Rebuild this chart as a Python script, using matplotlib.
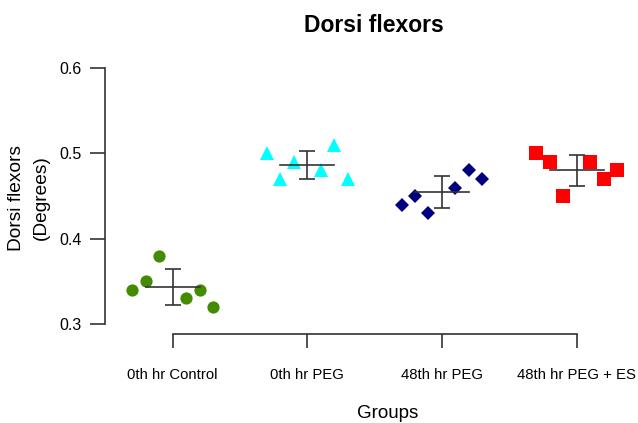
import numpy as np
from matplotlib import pyplot as plt

plt.rcParams['font.family'] = ['Liberation Sans', 'DejaVu Sans']

groups = ['0th hr Control', '0th hr PEG', '48th hr PEG', '48th hr PEG + ES']
control_0 = [0.34, 0.35, 0.38, 0.33, 0.34, 0.32]
peg_0 = [0.50, 0.47, 0.49, 0.48, 0.51, 0.47]
peg_48 = [0.44, 0.45, 0.43, 0.46, 0.48, 0.47]
peg_es_48 = [0.50, 0.49, 0.45, 0.49, 0.47, 0.48]
y_ticks = [0.3, 0.4, 0.5, 0.6]

series = [control_0, peg_0, peg_48, peg_es_48]
colors = ['#458B00', '#00FFFF', '#000080', '#FF0000']
markers = ['o', '^', 'D', 's']
msizes = [8.8, 10.5, 7.0, 9.6]
# spread of the points around each group centre
offsets = np.array([-0.3, -0.2, -0.1, 0.1, 0.2, 0.3])

fig = plt.figure(figsize=(6.38, 4.23), dpi=100)
ax = fig.add_axes([0.165, 0.2097, 0.8232, 0.6496])

for i, vals in enumerate(series):
	x = i + 1
	vals = np.array(vals)
	ax.plot(x + offsets, vals, linestyle=' ', marker=markers[i], color=colors[i],
			markersize=msizes[i], markeredgewidth=0, zorder=2)
	m = vals.mean()
	sd = vals.std(ddof=1)
	ax.plot([x - 0.2, x + 0.2], [m, m], color='#333333', lw=1.2, zorder=3)
	ax.errorbar(x, m, yerr=sd, fmt='none', ecolor='#333333', elinewidth=1.2,
				capsize=5.5, capthick=1.2, zorder=3)

ax.set_xlim(0.5, 4.4)
ax.set_ylim(0.288, 0.61)
ax.set_xticks(range(1, 5))
ax.set_xticklabels(groups)
ax.set_yticks(y_ticks)
ax.set_yticklabels(['%.1f' % v for v in y_ticks])

for s in ['top', 'right']:
	ax.spines[s].set_visible(False)
ax.spines['left'].set_bounds(0.3, 0.6)
ax.spines['bottom'].set_bounds(1, 4)
for s in ['left', 'bottom']:
	ax.spines[s].set_color('#333333')
	ax.spines[s].set_linewidth(1.2)

ax.tick_params(axis='x', length=10, width=1.2, color='#333333', pad=14, labelsize=10.7)
ax.tick_params(axis='y', length=11, width=1.2, color='#333333', pad=6, labelsize=11.5)

fig.text(374 / 638, 1 - 25 / 423, 'Dorsi flexors', ha='center', va='center',
		 fontsize=16.5, fontweight='bold')
fig.text(29 / 638, 1 - 198 / 423, 'Dorsi flexors\n(Degrees)', ha='center', va='center',
		 rotation=90, fontsize=13.8, linespacing=1.55)
fig.text(388 / 638, 1 - 413 / 423, 'Groups', ha='center', va='center', fontsize=13.5)

plt.savefig('out.png', dpi=100)
